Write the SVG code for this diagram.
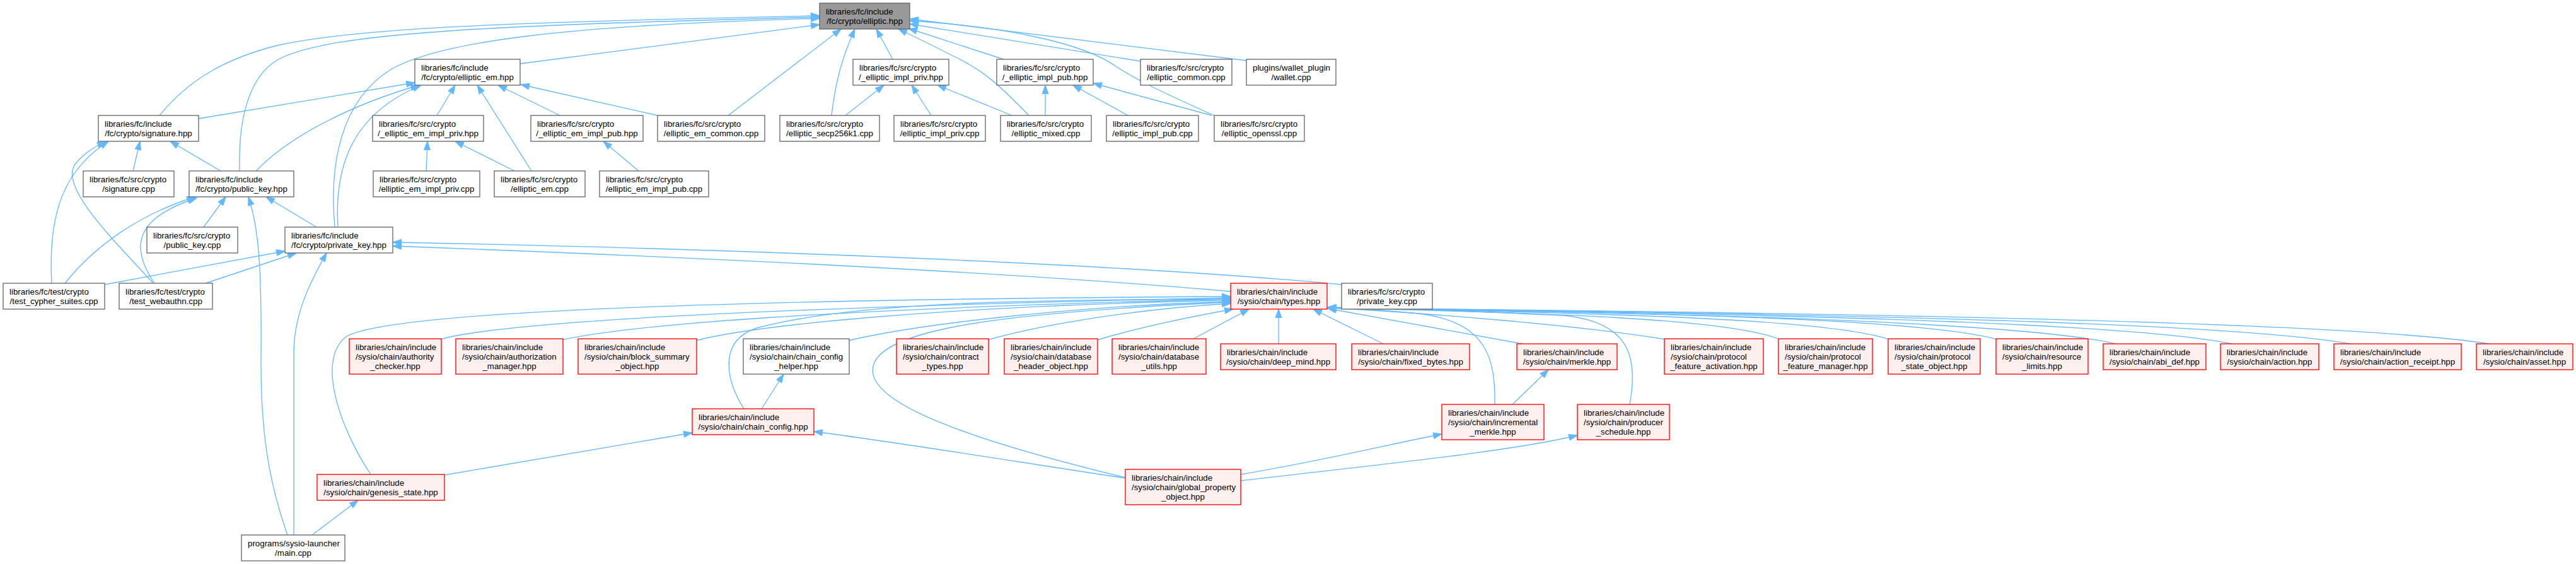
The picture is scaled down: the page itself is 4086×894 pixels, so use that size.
<svg xmlns="http://www.w3.org/2000/svg" width="4086" height="894" viewBox="0 0 4086 894">
<defs>
<style>
.n rect{fill:#ffffff;stroke:#666666;stroke-width:1.33}
.r rect{fill:#fff0f0;stroke:#ff0000;stroke-width:1.33}
.g rect{fill:#999999;stroke:#666666;stroke-width:1.33}
text{font-family:"Liberation Sans",Arial,Helvetica,sans-serif;font-size:13.33px;fill:#000000}
.c{text-anchor:middle}
#edges path{fill:none;stroke:#63b8ff;stroke-width:1.33;marker-end:url(#arr)}
</style>
<marker id="arr" markerUnits="userSpaceOnUse" markerWidth="16" markerHeight="12" refX="13.3" refY="5" orient="auto" overflow="visible">
<path d="M0,0.35 L13.3,5 L0,9.65 Z" fill="#63b8ff" stroke="#63b8ff" stroke-width="1.2"/>
</marker>
</defs>
<rect width="4086" height="894" fill="#ffffff"/>
<g id="edges">
<path d="M253,183 C300,125 360,92 440,72 C560,45 800,35 1300,25"/>
<path d="M380,271 C378,200 390,125 440,95 C520,50 800,40 1300,27"/>
<path d="M531,360 C522,260 540,160 620,110 C700,65 900,40 1300,29"/>
<path d="M825,101 L1300,39"/>
<path d="M1155,183 L1334,46"/>
<path d="M1319,183 C1325,130 1336,90 1356,46"/>
<path d="M1416,94 L1390,46"/>
<path d="M1632,183 C1590,140 1560,110 1510,88 C1480,72 1450,58 1425,46"/>
<path d="M1592,94 L1441,45"/>
<path d="M1809,97 L1443,38"/>
<path d="M1977,96 L1443,30"/>
<path d="M1926,183 C1840,145 1800,125 1770,105 C1720,70 1600,42 1443,33"/>
<path d="M315,188 L658,131"/>
<path d="M406,271 C460,215 560,165 665,135"/>
<path d="M536,360 C530,260 560,180 668,135"/>
<path d="M693,183 L722,135"/>
<path d="M843,271 L757,135"/>
<path d="M888,183 L790,135"/>
<path d="M1043,183 L826,134"/>
<path d="M676,271 L678,224"/>
<path d="M816,271 L722,224"/>
<path d="M1013,271 L957,224"/>
<path d="M1341,183 L1402,135"/>
<path d="M1477,183 L1446,135"/>
<path d="M1605,183 L1487,135"/>
<path d="M1658,183 L1658,135"/>
<path d="M1789,183 L1702,135"/>
<path d="M1922,183 L1734,132"/>
<path d="M211,271 L222,224"/>
<path d="M350,271 L270,224"/>
<path d="M82,449 C76,340 100,270 172,224"/>
<path d="M243,449 C190,390 95,300 118,262 C130,245 150,232 168,225"/>
<path d="M323,360 L358,312"/>
<path d="M502,360 L422,312"/>
<path d="M103,449 C150,390 220,340 310,312"/>
<path d="M245,449 C205,390 215,345 312,314"/>
<path d="M456,848 C425,760 413,680 414,560 C415,420 410,360 394,312"/>
<path d="M166,451 L452,398"/>
<path d="M326,449 L470,401"/>
<path d="M466,848 L466,560 C466,500 490,450 518,401"/>
<path d="M2128,451 C1800,420 1200,395 623,384"/>
<path d="M1952,462 C1700,440 1300,415 623,390"/>
<path d="M588,752 C540,680 500,570 550,533 C620,495 1100,475 1952,470"/>
<path d="M698,538 C780,515 1100,490 1952,472"/>
<path d="M890,539 C1000,515 1300,490 1952,474"/>
<path d="M1103,540 C1200,515 1500,485 1952,476"/>
<path d="M1180,648 C1150,600 1140,540 1200,520 C1350,480 1600,475 1952,474"/>
<path d="M1345,540 C1450,515 1700,485 1952,478"/>
<path d="M1785,757 C1550,700 1370,640 1385,580 C1400,520 1600,495 1952,479"/>
<path d="M1566,539 C1650,515 1800,490 1952,481"/>
<path d="M1740,539 C1820,515 1900,500 1956,490"/>
<path d="M1893,537 L1981,490"/>
<path d="M2028,545 L2028,490"/>
<path d="M2194,545 L2083,490"/>
<path d="M2415,545 L2106,489"/>
<path d="M2371,641 C2372,570 2360,510 2250,497 C2180,490 2130,488 2106,487"/>
<path d="M2585,641 C2600,560 2580,510 2480,500 C2300,492 2200,488 2106,487"/>
<path d="M2642,538 C2500,515 2250,495 2106,488"/>
<path d="M2823,538 C2737,503 2429,496 2106,488"/>
<path d="M2997,538 C2890,503 2508,496 2106,488"/>
<path d="M3168,538 C3041,503 2584,496 2106,488"/>
<path d="M3356,545 C3206,510 2669,496 2106,488"/>
<path d="M3541,545 C3369,510 2752,496 2106,488"/>
<path d="M3728,545 C3533,510 2836,496 2106,488"/>
<path d="M3948,545 C3727,510 2935,496 2106,488"/>
<path d="M2399,641 L2456,586"/>
<path d="M1968,752 C2100,730 2200,705 2287,688"/>
<path d="M1968,762 C2200,735 2400,715 2502,690"/>
<path d="M1785,758 C1600,730 1450,705 1291,684"/>
<path d="M705,753 L1098,686"/>
<path d="M1208,648 L1243,593"/>
<path d="M495,848 L568,793"/>
</g>
<g id="n1" class="g"><rect x="1300" y="5" width="143" height="41"/><text x="1310" y="22.5">libraries/fc/include</text><text class="c" x="1371.5" y="37.5">/fc/crypto/elliptic.hpp</text></g>
<g id="n2" class="n"><rect x="658" y="94" width="167" height="41"/><text x="668" y="111.5">libraries/fc/include</text><text class="c" x="741.5" y="126.5">/fc/crypto/elliptic_em.hpp</text></g>
<g id="n3" class="n"><rect x="1353" y="94" width="152" height="41"/><text x="1363" y="111.5">libraries/fc/src/crypto</text><text class="c" x="1429" y="126.5">/_elliptic_impl_priv.hpp</text></g>
<g id="n4" class="n"><rect x="1581" y="94" width="153" height="41"/><text x="1591" y="111.5">libraries/fc/src/crypto</text><text class="c" x="1657.5" y="126.5">/_elliptic_impl_pub.hpp</text></g>
<g id="n5" class="n"><rect x="1809" y="94" width="145" height="41"/><text x="1819" y="111.5">libraries/fc/src/crypto</text><text class="c" x="1881.5" y="126.5">/elliptic_common.cpp</text></g>
<g id="n6" class="n"><rect x="1977" y="94" width="142" height="41"/><text x="1987" y="111.5">plugins/wallet_plugin</text><text class="c" x="2048" y="126.5">/wallet.cpp</text></g>
<g id="n7" class="n"><rect x="156" y="183" width="159" height="41"/><text x="166" y="200.5">libraries/fc/include</text><text class="c" x="235.5" y="215.5">/fc/crypto/signature.hpp</text></g>
<g id="n8" class="n"><rect x="591" y="183" width="176" height="41"/><text x="601" y="200.5">libraries/fc/src/crypto</text><text class="c" x="679" y="215.5">/_elliptic_em_impl_priv.hpp</text></g>
<g id="n9" class="n"><rect x="842" y="183" width="178" height="41"/><text x="852" y="200.5">libraries/fc/src/crypto</text><text class="c" x="931" y="215.5">/_elliptic_em_impl_pub.hpp</text></g>
<g id="n10" class="n"><rect x="1043" y="183" width="170" height="41"/><text x="1053" y="200.5">libraries/fc/src/crypto</text><text class="c" x="1128" y="215.5">/elliptic_em_common.cpp</text></g>
<g id="n11" class="n"><rect x="1237" y="183" width="158" height="41"/><text x="1247" y="200.5">libraries/fc/src/crypto</text><text class="c" x="1316" y="215.5">/elliptic_secp256k1.cpp</text></g>
<g id="n12" class="n"><rect x="1418" y="183" width="145" height="41"/><text x="1428" y="200.5">libraries/fc/src/crypto</text><text class="c" x="1490.5" y="215.5">/elliptic_impl_priv.cpp</text></g>
<g id="n13" class="n"><rect x="1587" y="183" width="144" height="41"/><text x="1597" y="200.5">libraries/fc/src/crypto</text><text class="c" x="1659" y="215.5">/elliptic_mixed.cpp</text></g>
<g id="n14" class="n"><rect x="1755" y="183" width="146" height="41"/><text x="1765" y="200.5">libraries/fc/src/crypto</text><text class="c" x="1828" y="215.5">/elliptic_impl_pub.cpp</text></g>
<g id="n15" class="n"><rect x="1926" y="183" width="143" height="41"/><text x="1936" y="200.5">libraries/fc/src/crypto</text><text class="c" x="1997.5" y="215.5">/elliptic_openssl.cpp</text></g>
<g id="n16" class="n"><rect x="132" y="271" width="144" height="41"/><text x="142" y="288.5">libraries/fc/src/crypto</text><text class="c" x="204" y="303.5">/signature.cpp</text></g>
<g id="n17" class="n"><rect x="300" y="271" width="166" height="41"/><text x="310" y="288.5">libraries/fc/include</text><text class="c" x="383" y="303.5">/fc/crypto/public_key.hpp</text></g>
<g id="n18" class="n"><rect x="592" y="271" width="169" height="41"/><text x="602" y="288.5">libraries/fc/src/crypto</text><text class="c" x="676.5" y="303.5">/elliptic_em_impl_priv.cpp</text></g>
<g id="n19" class="n"><rect x="784" y="271" width="144" height="41"/><text x="794" y="288.5">libraries/fc/src/crypto</text><text class="c" x="856" y="303.5">/elliptic_em.cpp</text></g>
<g id="n20" class="n"><rect x="951" y="271" width="173" height="41"/><text x="961" y="288.5">libraries/fc/src/crypto</text><text class="c" x="1037.5" y="303.5">/elliptic_em_impl_pub.cpp</text></g>
<g id="n21" class="n"><rect x="233" y="360" width="144" height="41"/><text x="243" y="377.5">libraries/fc/src/crypto</text><text class="c" x="305" y="392.5">/public_key.cpp</text></g>
<g id="n22" class="n"><rect x="452" y="360" width="171" height="41"/><text x="462" y="377.5">libraries/fc/include</text><text class="c" x="537.5" y="392.5">/fc/crypto/private_key.hpp</text></g>
<g id="n23" class="n"><rect x="5" y="449" width="161" height="41"/><text x="15" y="466.5">libraries/fc/test/crypto</text><text class="c" x="85.5" y="481.5">/test_cypher_suites.cpp</text></g>
<g id="n24" class="n"><rect x="189" y="449" width="148" height="41"/><text x="199" y="466.5">libraries/fc/test/crypto</text><text class="c" x="263" y="481.5">/test_webauthn.cpp</text></g>
<g id="n25" class="r"><rect x="1952" y="449" width="153" height="41"/><text x="1962" y="466.5">libraries/chain/include</text><text class="c" x="2028.5" y="481.5">/sysio/chain/types.hpp</text></g>
<g id="n26" class="n"><rect x="2128" y="449" width="144" height="41"/><text x="2138" y="466.5">libraries/fc/src/crypto</text><text class="c" x="2200" y="481.5">/private_key.cpp</text></g>
<g id="n27" class="r"><rect x="554" y="537" width="146" height="56"/><text x="564" y="554.5">libraries/chain/include</text><text x="564" y="569.5">/sysio/chain/authority</text><text class="c" x="627" y="584.5">_checker.hpp</text></g>
<g id="n28" class="r"><rect x="723" y="537" width="170" height="56"/><text x="733" y="554.5">libraries/chain/include</text><text x="733" y="569.5">/sysio/chain/authorization</text><text class="c" x="808" y="584.5">_manager.hpp</text></g>
<g id="n29" class="r"><rect x="917" y="537" width="188" height="56"/><text x="927" y="554.5">libraries/chain/include</text><text x="927" y="569.5">/sysio/chain/block_summary</text><text class="c" x="1011" y="584.5">_object.hpp</text></g>
<g id="n30" class="n"><rect x="1179" y="537" width="168" height="56"/><text x="1189" y="554.5">libraries/chain/include</text><text x="1189" y="569.5">/sysio/chain/chain_config</text><text class="c" x="1263" y="584.5">_helper.hpp</text></g>
<g id="n31" class="r"><rect x="1422" y="537" width="146" height="56"/><text x="1432" y="554.5">libraries/chain/include</text><text x="1432" y="569.5">/sysio/chain/contract</text><text class="c" x="1495" y="584.5">_types.hpp</text></g>
<g id="n32" class="r"><rect x="1593" y="537" width="148" height="56"/><text x="1603" y="554.5">libraries/chain/include</text><text x="1603" y="569.5">/sysio/chain/database</text><text class="c" x="1667" y="584.5">_header_object.hpp</text></g>
<g id="n33" class="r"><rect x="1764" y="537" width="149" height="56"/><text x="1774" y="554.5">libraries/chain/include</text><text x="1774" y="569.5">/sysio/chain/database</text><text class="c" x="1838.5" y="584.5">_utils.hpp</text></g>
<g id="n34" class="r"><rect x="1936" y="545" width="183" height="41"/><text x="1946" y="562.5">libraries/chain/include</text><text class="c" x="2027.5" y="577.5">/sysio/chain/deep_mind.hpp</text></g>
<g id="n35" class="r"><rect x="2144" y="545" width="187" height="41"/><text x="2154" y="562.5">libraries/chain/include</text><text class="c" x="2237.5" y="577.5">/sysio/chain/fixed_bytes.hpp</text></g>
<g id="n36" class="r"><rect x="2406" y="545" width="159" height="41"/><text x="2416" y="562.5">libraries/chain/include</text><text class="c" x="2485.5" y="577.5">/sysio/chain/merkle.hpp</text></g>
<g id="n37" class="r"><rect x="2640" y="537" width="157" height="56"/><text x="2650" y="554.5">libraries/chain/include</text><text x="2650" y="569.5">/sysio/chain/protocol</text><text class="c" x="2718.5" y="584.5">_feature_activation.hpp</text></g>
<g id="n38" class="r"><rect x="2821" y="537" width="149" height="56"/><text x="2831" y="554.5">libraries/chain/include</text><text x="2831" y="569.5">/sysio/chain/protocol</text><text class="c" x="2895.5" y="584.5">_feature_manager.hpp</text></g>
<g id="n39" class="r"><rect x="2995" y="537" width="146" height="56"/><text x="3005" y="554.5">libraries/chain/include</text><text x="3005" y="569.5">/sysio/chain/protocol</text><text class="c" x="3068" y="584.5">_state_object.hpp</text></g>
<g id="n40" class="r"><rect x="3166" y="537" width="146" height="56"/><text x="3176" y="554.5">libraries/chain/include</text><text x="3176" y="569.5">/sysio/chain/resource</text><text class="c" x="3239" y="584.5">_limits.hpp</text></g>
<g id="n41" class="r"><rect x="3336" y="545" width="163" height="41"/><text x="3346" y="562.5">libraries/chain/include</text><text class="c" x="3417.5" y="577.5">/sysio/chain/abi_def.hpp</text></g>
<g id="n42" class="r"><rect x="3522" y="545" width="156" height="41"/><text x="3532" y="562.5">libraries/chain/include</text><text class="c" x="3600" y="577.5">/sysio/chain/action.hpp</text></g>
<g id="n43" class="r"><rect x="3702" y="545" width="202" height="41"/><text x="3712" y="562.5">libraries/chain/include</text><text class="c" x="3803" y="577.5">/sysio/chain/action_receipt.hpp</text></g>
<g id="n44" class="r"><rect x="3928" y="545" width="153" height="41"/><text x="3938" y="562.5">libraries/chain/include</text><text class="c" x="4004.5" y="577.5">/sysio/chain/asset.hpp</text></g>
<g id="n45" class="r"><rect x="1098" y="648" width="193" height="41"/><text x="1108" y="665.5">libraries/chain/include</text><text class="c" x="1194.5" y="680.5">/sysio/chain/chain_config.hpp</text></g>
<g id="n46" class="r"><rect x="2287" y="641" width="162" height="56"/><text x="2297" y="658.5">libraries/chain/include</text><text x="2297" y="673.5">/sysio/chain/incremental</text><text class="c" x="2368" y="688.5">_merkle.hpp</text></g>
<g id="n47" class="r"><rect x="2502" y="641" width="146" height="56"/><text x="2512" y="658.5">libraries/chain/include</text><text x="2512" y="673.5">/sysio/chain/producer</text><text class="c" x="2575" y="688.5">_schedule.hpp</text></g>
<g id="n48" class="r"><rect x="1785" y="744" width="183" height="56"/><text x="1795" y="761.5">libraries/chain/include</text><text x="1795" y="776.5">/sysio/chain/global_property</text><text class="c" x="1876.5" y="791.5">_object.hpp</text></g>
<g id="n49" class="r"><rect x="503" y="752" width="202" height="41"/><text x="513" y="769.5">libraries/chain/include</text><text class="c" x="604" y="784.5">/sysio/chain/genesis_state.hpp</text></g>
<g id="n50" class="n"><rect x="383" y="848" width="164" height="41"/><text x="393" y="865.5">programs/sysio-launcher</text><text class="c" x="465" y="880.5">/main.cpp</text></g>
</svg>
